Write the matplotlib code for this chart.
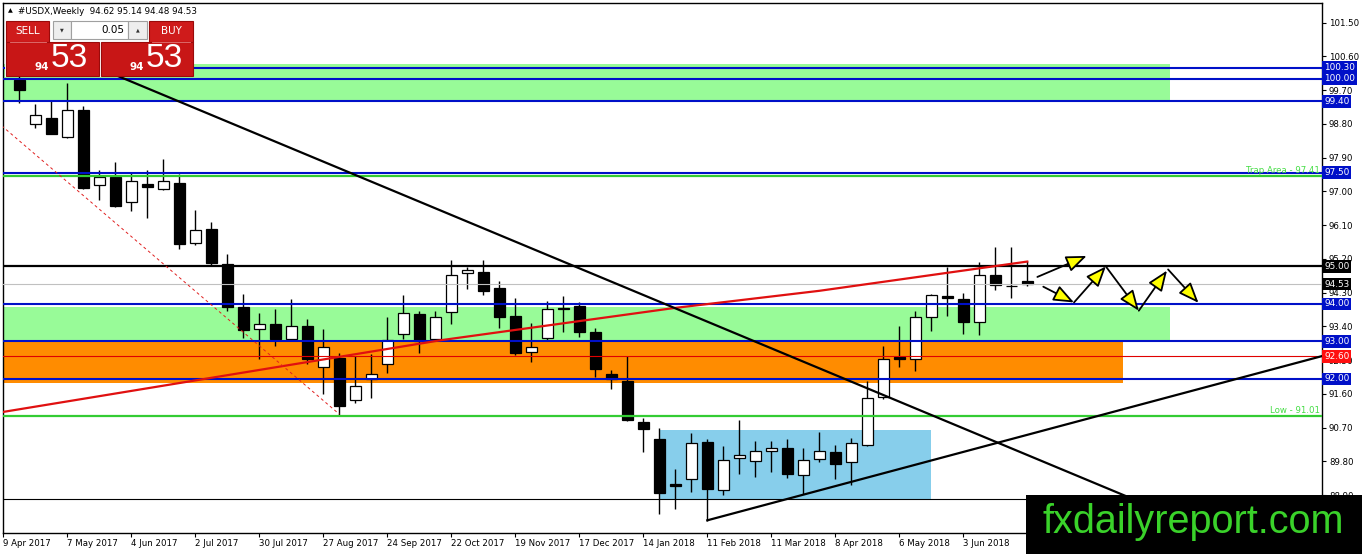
import numpy as np
import matplotlib.pyplot as plt
from matplotlib.patches import Rectangle

W, H = 1362, 554

# weekly bars, bar 0 = week of 16 Apr 2017
opens = [99.97, 98.81, 98.97, 98.45, 99.17, 97.18, 97.38, 96.71, 97.21, 97.07,
         97.23, 95.62, 96.00, 95.07, 93.91, 93.33, 93.46, 93.06, 93.42, 92.32,
         92.57, 91.43, 91.99, 92.39, 93.20, 93.73, 93.06, 93.79, 94.83, 94.84,
         94.42, 93.68, 92.73, 93.08, 93.89, 93.95, 93.26, 92.14, 91.95, 90.86,
         90.39, 89.20, 89.32, 90.32, 89.05, 89.90, 89.81, 90.07, 90.15, 89.43,
         89.87, 90.05, 89.78, 90.23, 91.53, 92.58, 92.53, 93.64, 94.20, 94.13,
         93.52, 94.78, 94.49, 94.62]
highs = [100.10, 99.33, 99.45, 99.90, 99.28, 97.58, 97.78, 97.49, 97.56, 97.87,
         97.47, 96.51, 96.18, 95.33, 94.26, 93.77, 93.86, 94.13, 93.60, 93.33,
         92.70, 92.62, 92.66, 93.66, 94.24, 93.82, 93.80, 95.16, 94.98, 95.16,
         94.62, 94.17, 93.49, 94.09, 94.22, 94.04, 93.37, 92.23, 92.62, 90.97,
         90.68, 89.61, 90.56, 90.39, 90.21, 90.90, 90.34, 90.34, 90.41, 90.16,
         90.59, 90.23, 90.43, 91.95, 92.88, 93.42, 93.82, 94.26, 94.98, 94.28,
         95.11, 95.53, 95.53, 95.14]
lows = [99.36, 98.69, 98.52, 98.43, 97.07, 96.76, 96.58, 96.49, 96.30, 97.03,
        95.47, 95.58, 95.05, 93.82, 93.10, 92.53, 92.88, 93.01, 92.39, 91.59,
        91.01, 91.37, 91.50, 92.17, 93.06, 92.70, 93.02, 93.46, 94.40, 94.24,
        93.37, 92.64, 92.46, 93.02, 93.24, 93.12, 92.04, 91.72, 90.88, 90.06,
        88.40, 88.52, 88.99, 88.22, 88.90, 89.47, 89.38, 89.52, 89.36, 88.92,
        89.79, 89.32, 89.18, 90.20, 91.46, 92.32, 92.20, 93.28, 93.68, 93.20,
        93.17, 94.37, 94.16, 94.48]
closes = [99.70, 99.03, 98.54, 99.18, 97.09, 97.38, 96.60, 97.27, 97.11, 97.29,
          95.60, 95.98, 95.08, 93.93, 93.30, 93.46, 93.06, 93.40, 92.53, 92.84,
          91.28, 91.81, 92.13, 93.03, 93.76, 93.02, 93.64, 94.77, 94.91, 94.35,
          93.64, 92.70, 92.86, 93.86, 93.87, 93.26, 92.26, 92.01, 90.90, 90.66,
          88.96, 89.15, 90.30, 89.07, 89.85, 89.96, 90.07, 90.15, 89.47, 89.85,
          90.09, 89.74, 90.28, 91.48, 92.53, 92.52, 93.64, 94.24, 94.15, 93.51,
          94.77, 94.50, 94.47, 94.53]

date_ticks = [-1, 3, 7, 11, 15, 19, 23, 27, 31, 35, 39, 43, 47, 51, 55, 59, 63]
date_labels = ["9 Apr 2017", "7 May 2017", "4 Jun 2017", "2 Jul 2017", "30 Jul 2017",
               "27 Aug 2017", "24 Sep 2017", "22 Oct 2017", "19 Nov 2017", "17 Dec 2017",
               "14 Jan 2018", "11 Feb 2018", "11 Mar 2018", "8 Apr 2018", "6 May 2018",
               "3 Jun 2018", "1 Jul 2018"]

blue_levels = [100.30, 100.00, 99.40, 97.50, 94.00, 93.00, 92.00]
green_levels = [97.41, 91.01]
resistance = 95.00
bid = 94.53
red_level = 92.60
bottom_level = 88.79

# zones: (x0, x1, y0, y1)
green_zones = [(-1.1, 71.9, 99.40, 100.40), (-1.1, 71.9, 93.00, 93.92)]
orange_zone = (-1.1, 68.96, 91.88, 93.00)
blue_box = (40.0, 56.96, 88.79, 90.63)

# trend lines
ma_x = [-1.02, 26.3, 40.9, 50.0, 63.0]
ma_y = [91.12, 93.03, 93.89, 94.35, 95.13]
down_x, down_y = [3.0, 69.2], [100.64, 88.87]
up_x, up_y = [43.0, 81.6], [88.23, 92.63]
dash_x, dash_y = [-1.1, 20.0], [98.75, 91.06]

# projected path arrows (start, end)
arrows = [((63.63, 94.72), (66.71, 95.28)),
          ((64.00, 94.46), (65.92, 94.04)),
          ((65.92, 94.04), (67.91, 95.00)),
          ((67.91, 95.00), (69.97, 93.82)),
          ((69.97, 93.82), (71.73, 94.89)),
          ((71.80, 94.92), (73.70, 94.03))]

fig = plt.figure(figsize=(W / 100, H / 100), dpi=100)
ax = fig.add_axes([3 / W, 1 - 532.7 / H, 1319 / W, 529.7 / H])
ax.set_xlim(-1.02, 81.42)
ax.set_ylim(87.90, 102.025)

blue = "#0010C8"
green = "#33CC33"

for x0, x1, y0, y1 in green_zones:
    ax.add_patch(Rectangle((x0, y0), x1 - x0, y1 - y0, fc="#98FB98", ec="none", zorder=1))
x0, x1, y0, y1 = orange_zone
ax.add_patch(Rectangle((x0, y0), x1 - x0, y1 - y0, fc="#FF8C00", ec="none", zorder=1))
x0, x1, y0, y1 = blue_box
ax.add_patch(Rectangle((x0, y0), x1 - x0, y1 - y0, fc="#87CEEB", ec="none", zorder=1))

# candles
x = np.arange(len(opens))
o = np.array(opens)
c = np.array(closes)
up = c >= o
ax.vlines(x, lows, highs, color="black", lw=1, zorder=3)
ax.bar(x, np.maximum(np.abs(c - o), 0.02), bottom=np.minimum(o, c), width=0.66,
       color=np.where(up, "white", "black"), edgecolor="black", linewidth=0.9, zorder=4)

# horizontal levels
for lv in green_levels:
    ax.axhline(lv, color=green, lw=1.6, zorder=5)
for lv in blue_levels:
    ax.axhline(lv, color=blue, lw=1.5, zorder=5)
ax.axhline(resistance, color="black", lw=1.6, zorder=5)
ax.axhline(bid, color="#C0C0C0", lw=0.8, zorder=5)
ax.axhline(red_level, color="#E00000", lw=0.8, zorder=5)
ax.axhline(bottom_level, color="black", lw=0.8, zorder=5)

# trend lines
ax.plot(ma_x, ma_y, color="#E01010", lw=1.6, zorder=6)
ax.plot(down_x, down_y, color="black", lw=1.6, zorder=6)
ax.plot(up_x, up_y, color="black", lw=1.6, zorder=6)
ax.plot(dash_x, dash_y, color="#E02020", lw=0.7, dashes=(3, 3), zorder=6)

for start, end in arrows:
    ax.annotate("", xy=end, xytext=start, zorder=7,
                arrowprops=dict(arrowstyle="-|>,head_length=1.25,head_width=0.5",
                                fc="#FFFF00", ec="black", lw=1.3,
                                shrinkA=0, shrinkB=0, mutation_scale=10))

ax.text(0.9985, 97.43, "Trap Area - 97.41", transform=ax.get_yaxis_transform(),
        ha="right", va="bottom", fontsize=6.2, color="#44DD44", zorder=8)
ax.text(0.9985, 91.05, "Low - 91.01", transform=ax.get_yaxis_transform(),
        ha="right", va="bottom", fontsize=6.2, color="#44DD44", zorder=8)

# axes styling
ax.yaxis.tick_right()
ax.set_yticks([88.90 + 0.9 * k for k in range(15)])
ax.set_yticklabels([f"{88.90 + 0.9 * k:.2f}" for k in range(15)])
ax.tick_params(axis="y", length=3, width=0.8, pad=2, labelsize=6.2)
ax.set_xticks(date_ticks)
ax.set_xticklabels(date_labels)
for lbl in ax.get_xticklabels():
    lbl.set_horizontalalignment("left")
ax.tick_params(axis="x", length=3, width=0.8, pad=1.5, labelsize=6.2)
for sp in ax.spines.values():
    sp.set_linewidth(1)

# right-side price tags
tags = [(lv, blue) for lv in blue_levels] + [(resistance, "black"), (bid, "black"), (red_level, "#FF1010")]
for lv, col in tags:
    ax.text(1.0016, lv, f"{lv:.2f}", transform=ax.get_yaxis_transform(), ha="left",
            va="center", fontsize=6.4, color="white", clip_on=False, zorder=10,
            bbox=dict(boxstyle="square,pad=0.2", fc=col, ec="none"))

# overlay in pixel coordinates for the trade panel and logo
ov = fig.add_axes([0, 0, 1, 1], zorder=10)
ov.set_xlim(0, W)
ov.set_ylim(H, 0)
ov.axis("off")

ov.text(8, 11, "\u25b2", fontsize=4.5, ha="left", va="center")
ov.text(18, 11, "#USDX,Weekly  94.62 95.14 94.48 94.53", fontsize=6.3, ha="left", va="center")

red_fc, red_ec = "#CF1B1B", "#9A0A0A"
ov.add_patch(Rectangle((5, 20), 189, 57, fc="white", ec="none"))
ov.add_patch(Rectangle((6, 21), 43, 21, fc=red_fc, ec=red_ec, lw=0.8))
ov.add_patch(Rectangle((149, 21), 44, 21, fc=red_fc, ec=red_ec, lw=0.8))
ov.add_patch(Rectangle((53, 21), 18, 18, fc="#EEEEEE", ec="#A0A0A0", lw=0.8))
ov.add_patch(Rectangle((71, 21), 57, 18, fc="white", ec="#A0A0A0", lw=0.8))
ov.add_patch(Rectangle((128, 21), 19, 18, fc="#EEEEEE", ec="#A0A0A0", lw=0.8))
ov.add_patch(Rectangle((6, 42), 93, 34, fc="#C81616", ec=red_ec, lw=0.8))
ov.add_patch(Rectangle((101, 42), 92, 34, fc="#C81616", ec=red_ec, lw=0.8))
ov.plot([10, 46], [41.5, 41.5], color="#E87878", lw=0.6)
ov.plot([152, 190], [41.5, 41.5], color="#E87878", lw=0.6)

ov.text(27.5, 31.5, "SELL", color="white", fontsize=7.5, ha="center", va="center")
ov.text(171, 31.5, "BUY", color="white", fontsize=7.5, ha="center", va="center")
ov.text(62, 30, "\u25bc", fontsize=3.5, ha="center", va="center", color="#333333")
ov.text(137.5, 30, "\u25b2", fontsize=3.5, ha="center", va="center", color="#333333")
ov.text(124, 30, "0.05", fontsize=7.5, ha="right", va="center")
for bx in (6, 101):
    ov.text(bx + 35.5, 67.5, "94", color="white", fontsize=7.5, fontweight="bold",
            ha="center", va="center")
    ov.text(bx + 63, 58.5, "53", color="white", fontsize=24, ha="center", va="center",
            family="Liberation Sans")

ov.add_patch(Rectangle((1026, 495), W - 1026, H - 495, fc="black", ec="none"))
ov.text(1193.5, 533, "fxdailyreport.com", color="#3AD22A", fontsize=28.5,
        family="Liberation Sans", ha="center", va="baseline")

fig.savefig("out.png", dpi=100)
